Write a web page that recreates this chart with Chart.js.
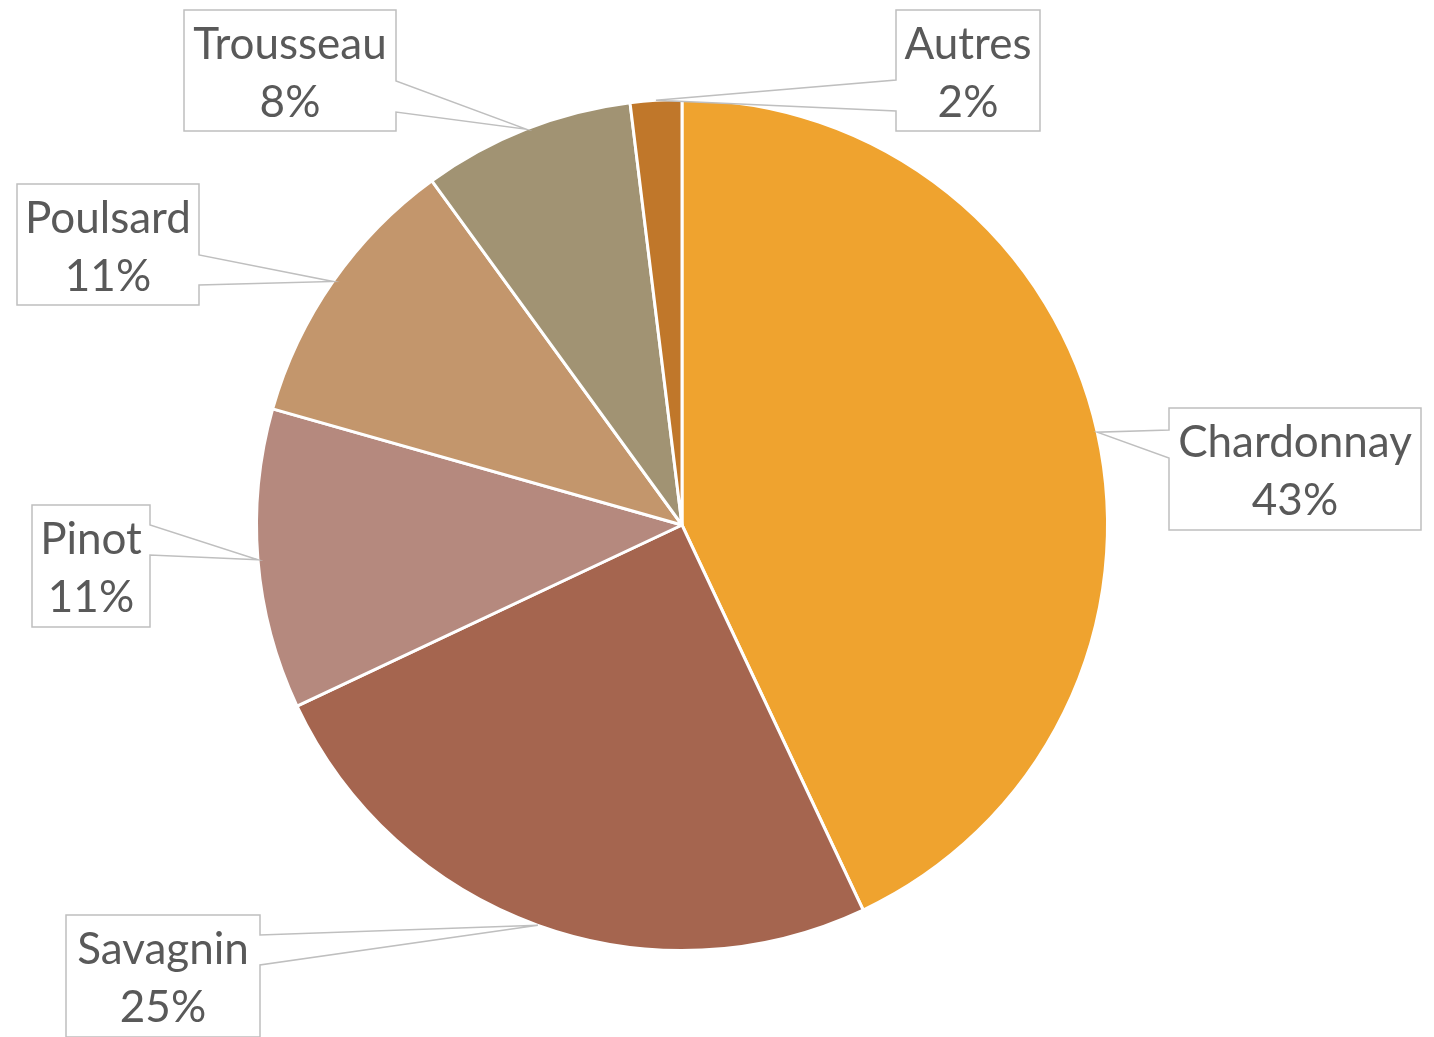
<!DOCTYPE html>
<html><head><meta charset="utf-8">
<script src="https://cdn.jsdelivr.net/npm/chart.js@4/dist/chart.umd.min.js"></script>
<style>html,body{margin:0;padding:0;background:#fff;}#wrap{width:1434px;height:1037px;}</style>
</head><body><div id="wrap"><canvas id="c" width="1434" height="1037"></canvas></div>
<script>
const categories = ["Chardonnay", "Savagnin", "Pinot", "Poulsard", "Trousseau", "Autres"];
const values = [43, 25, 11.4, 10.6, 8.05, 1.95];
const percentLabels = ["43%", "25%", "11%", "11%", "8%", "2%"];
const colors = ["#EFA32F", "#A5654F", "#B5897E", "#C3966C", "#A19373", "#C0772A"];

// label box layout (left, top, width, height, wedge base offsets from top, side of box facing tip)
const boxLayout = [
  {l:1169, t:408, w:252, h:122, b1:22, b2:50, side:'left'},
  {l:66,   t:915, w:194, h:122, b1:20, b2:50, side:'right'},
  {l:32,   t:505, w:118, h:122, b1:20, b2:50, side:'right'},
  {l:17,   t:184, w:182, h:121, b1:71, b2:101, side:'right'},
  {l:184,  t:10,  w:212, h:121, b1:71, b2:102, side:'right'},
  {l:896,  t:10,  w:144, h:121, b1:70, b2:101, side:'left'}
];

const calloutPlugin = {
  id: 'callouts',
  afterDatasetsDraw(chart) {
    const ctx = chart.ctx;
    const meta = chart.getDatasetMeta(0);
    ctx.save();
    ctx.font = '44px Lato, "Open Sans", sans-serif';
    meta.data.forEach((arc, i) => {
      const p = arc.getProps(['x','y','startAngle','endAngle','outerRadius'], true);
      const a = (p.startAngle + p.endAngle) / 2;
      const tx = p.x + p.outerRadius * Math.cos(a);
      const ty = p.y + p.outerRadius * Math.sin(a);
      const b = boxLayout[i];
      const L = b.l, T = b.t, R = b.l + b.w, B = b.t + b.h;
      ctx.beginPath();
      if (b.side === 'left') {
        ctx.moveTo(L, T); ctx.lineTo(R, T); ctx.lineTo(R, B); ctx.lineTo(L, B);
        ctx.lineTo(L, T + b.b2); ctx.lineTo(tx, ty); ctx.lineTo(L, T + b.b1); ctx.closePath();
      } else {
        ctx.moveTo(L, T); ctx.lineTo(R, T); ctx.lineTo(R, T + b.b1); ctx.lineTo(tx, ty);
        ctx.lineTo(R, T + b.b2); ctx.lineTo(R, B); ctx.lineTo(L, B); ctx.closePath();
      }
      ctx.fillStyle = '#FFFFFF';
      ctx.fill();
      ctx.strokeStyle = '#BFBFBF';
      ctx.lineWidth = 1.5;
      ctx.stroke();
      ctx.fillStyle = '#595959';
      ctx.textAlign = 'center';
      ctx.textBaseline = 'alphabetic';
      const cx = (L + R) / 2;
      ctx.fillText(chart.data.labels[i], cx, T + 49);
      ctx.fillText(percentLabels[i], cx, T + 107);
    });
    ctx.restore();
  }
};

new Chart(document.getElementById('c'), {
  type: 'pie',
  data: {
    labels: categories,
    datasets: [{
      data: values,
      backgroundColor: colors,
      borderColor: '#FFFFFF',
      borderWidth: 3
    }]
  },
  options: {
    responsive: false,
    animation: false,
    layout: { padding: { top: 98, bottom: 85, left: 0, right: 70 } },
    plugins: { legend: { display: false }, tooltip: { enabled: false } }
  },
  plugins: [calloutPlugin]
});
</script>
</body></html>
